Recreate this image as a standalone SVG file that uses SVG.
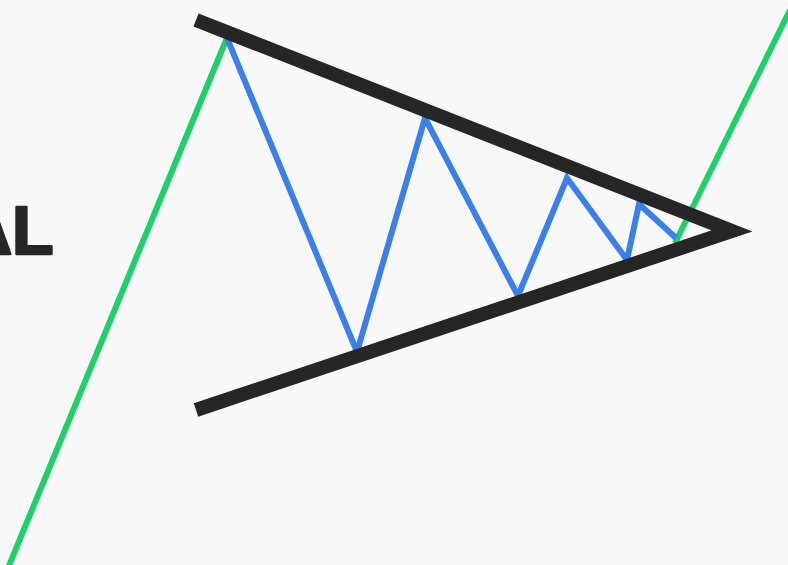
<svg xmlns="http://www.w3.org/2000/svg" width="788" height="565" viewBox="0 0 788 565">
<style>
.bg{fill:#f8f8f8}
.trend{fill:none;stroke:#1fd06a;stroke-width:6;stroke-linecap:butt;stroke-linejoin:miter}
.wave{fill:none;stroke:#3b7fe8;stroke-width:6;stroke-linejoin:miter;stroke-linecap:butt}
.edge{fill:none;stroke:#262626;stroke-width:14;stroke-linecap:butt;stroke-linejoin:miter;stroke-miterlimit:6}
.label{font-family:"Liberation Sans",Arial,sans-serif;font-weight:bold;font-size:68px;fill:#262626;stroke:#262626;stroke-width:2.5;stroke-linejoin:round}
</style>
<rect class="bg" x="0" y="0" width="788" height="565"/>
<text class="label" x="-37" y="254">AL</text>
<g id="trend">
<polyline class="trend" points="8,568 227,38"/>
<polyline class="trend" points="675,243 790,10"/>
</g>
<g id="wave">
<polyline class="wave" points="227,38 357,352 425,118 518,296 567,178 627,260 639,204 676,238"/>
</g>
<g id="triangle">
<polyline class="edge" points="196,20 732,231 196,410"/>
</g>
</svg>
